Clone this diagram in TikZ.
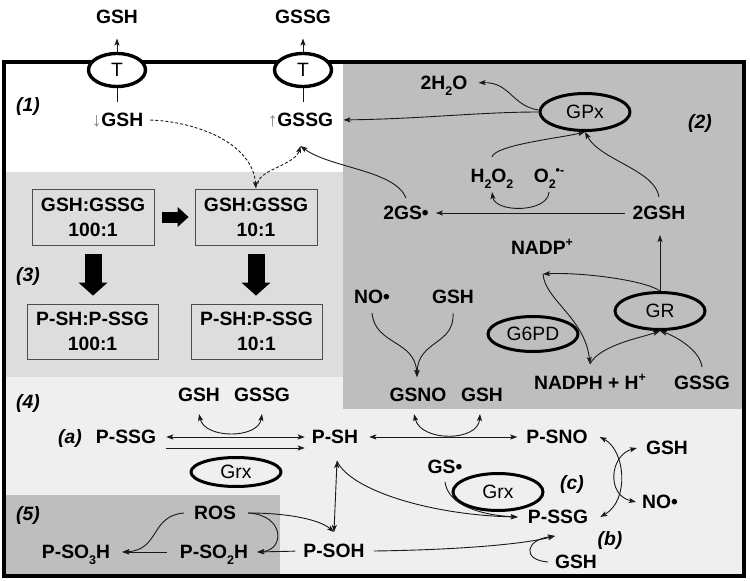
\documentclass[tikz,border=0pt]{standalone}
\usepackage{fontspec}
\setmainfont{Liberation Sans}
\usepackage{graphicx}
\usetikzlibrary{arrows.meta,shapes.geometric}
\definecolor{rtwo}{gray}{0.745}
\definecolor{rthree}{gray}{0.867}
\definecolor{rfour}{gray}{0.937}
\definecolor{ink}{gray}{0.1}
\newcommand{\sbs}[1]{\raisebox{-0.28em}{\fontsize{12.5}{12.5}\selectfont #1}}
\newcommand{\sps}[1]{\raisebox{0.42em}{\fontsize{12.5}{12.5}\selectfont #1}}
\begin{document}
\begin{tikzpicture}[x=1pt,y=-1pt,
  lbl/.style={font=\bfseries\fontsize{19.3}{21}\selectfont, inner sep=2pt, text height=13.6pt, text depth=0pt},
  ital/.style={lbl, font=\bfseries\itshape\fontsize{19.3}{21}\selectfont},
  enz/.style={ellipse, draw=black, line width=3pt, minimum width=90pt, minimum height=37pt, inner sep=0pt, font=\fontsize{19.3}{21}\selectfont},
  tr/.style={ellipse, draw=black, fill=white, line width=3.4pt, minimum width=57pt, minimum height=33pt, inner sep=0pt, font=\fontsize{19.3}{21}\selectfont},
  ratio/.style={draw=black!70, line width=0.8pt, fill=rthree, minimum width=122pt, minimum height=56pt, align=center, inner sep=0pt, font=\bfseries\fontsize{19.3}{25}\selectfont},
  arr/.style={color=ink, line width=0.9pt, -{Stealth[length=7pt,width=5pt,inset=1.5pt]}},
  darr/.style={color=ink, line width=0.9pt, {Stealth[length=7pt,width=5pt,inset=1.5pt]}-{Stealth[length=7pt,width=5pt,inset=1.5pt]}},
  plainln/.style={color=ink, line width=1pt},
  fatdown/.style={line width=17pt, -{Triangle[length=13pt,width=29pt,line width=0pt]}},
  fatright/.style={line width=11pt, -{Triangle[length=11pt,width=20pt,line width=0pt]}},
  dsh/.style={dash pattern=on 3pt off 2pt}
]
\useasboundingbox (0,0) rectangle (750,581);
% backgrounds
\fill[white] (0,0) rectangle (750,581);
\fill[rthree] (4,172) rectangle (343,377);
\fill[rfour] (4,377) rectangle (744,576);
\fill[rtwo] (343,62) rectangle (744,409);
\fill[rtwo] (4,495) rectangle (280,576);
\draw[line width=3.4pt] (4,62) rectangle (744,576);

% ---- region 1 ----
\node[tr] (T1) at (117,70) {T};
\node[tr] (T2) at (303,70) {T};
\node[lbl] (gshOut) at (117,16.5) {GSH};
\node[lbl] (gssgOut) at (303,16.5) {GSSG};
\node[lbl] (gshIn) at (117.5,120) {\textcolor{gray}{\mdseries ↓}GSH};
\node[lbl] (gssgIn) at (300.5,120) {\textcolor{gray}{\mdseries ↑}GSSG};
\node[ital] (l1) at (28,105) {(1)};
\draw[arr, shorten >=13pt] (T1.north) -- (gshOut.south);
\draw[arr, shorten >=13pt] (T2.north) -- (gssgOut.south);
\draw[plainln] (T1.south) -- ++(0,14);
\draw[plainln] (T2.south) -- ++(0,14);
\coordinate (gssgInB) at ([yshift=-17pt]gssgIn.south);

% ---- region 3 ----
\node[ratio] (bA) at (93,217) {GSH:GSSG\\100:1};
\node[ratio] (bB) at (256,217) {GSH:GSSG\\10:1};
\node[ratio, minimum width=131pt, minimum height=55pt] (bC) at (92.5,331.5) {P-SH:P-SSG\\100:1};
\node[ratio, minimum width=131pt, minimum height=55pt] (bD) at (256.5,331.5) {P-SH:P-SSG\\10:1};
\node[ital] (l3) at (28,275) {(3)};
\draw[fatright, shorten <=8pt, shorten >=6pt] (bA.east) -- (bB.west);
\draw[fatdown, shorten <=9pt, shorten >=8pt] (bA.south) -- (bA.south |- bC.north);
\draw[fatdown, shorten <=9pt, shorten >=8pt] (bB.south) -- (bB.south |- bD.north);

\draw[arr, dsh, shorten <=5pt] (gshIn.east) .. controls (190,121) and (252,140) .. (bB.north);
\draw[arr, dsh] ([xshift=2pt,yshift=5pt]bB.north) .. controls (258,170) and (295,165) .. (gssgInB);

% ---- region 2 ----
\node[enz] (gpx) at (585,112) {GPx};
\node[lbl] (h2o) at (444,83) {2H\sbs{2}O};
\node[ital] (l2) at (700,122) {(2)};
\node[lbl] (h2o2) at (492,176) {H\sbs{2}O\sbs{2}};
\node[lbl] (o2) at (549,176) {O\sbs{2}\sps{•-}};
\node[lbl] (gsr2) at (406,213) {2GS•};
\node[lbl] (gsh2) at (659,213) {2GSH};
\node[lbl] (nadp) at (542,248) {NADP\sps{+}};
\node[enz] (gr) at (660,311) {GR};
\node[enz, minimum height=35pt] (g6pd) at (533,334) {G6PD};
\node[lbl] (nadph) at (590,383) {NADPH + H\sps{+}};
\node[lbl] (gssg2) at (702,383) {GSSG};
\node[lbl] (no1) at (372,297) {NO•};
\node[lbl] (gsh3) at (453,297) {GSH};
\node[lbl] (gsno) at (418,395) {GSNO};
\node[lbl] (gsh4) at (482,395) {GSH};

\draw[arr, shorten >=8pt] (gpx.west) .. controls (480,112) and (420,119) .. (gssgIn.east);
\draw[arr, shorten >=9pt] ([yshift=2pt]gpx.west) .. controls (512,106) and (510,82) .. (h2o.east);
\draw[arr] ([yshift=10pt]h2o2.north) .. controls (495,145) and (560,138) .. (gpx.south);
\draw[arr] ([yshift=7pt]gsh2.north) .. controls (655,170) and (600,160) .. (gpx.south);
\draw[arr] ([yshift=-7pt]o2.south) .. controls (548,213) and (495,213) .. ([yshift=-7pt]h2o2.south);
\draw[arr, shorten <=6pt, shorten >=5pt] (gsh2.west) -- (gsr2.east);
\draw[arr] ([yshift=6pt]gsr2.north) .. controls (395,170) and (330,168) .. (gssgInB);
\draw[arr, shorten >=13pt] (gr.north) -- (gr.north |- gsh2.south);
\coordinate (nadpT) at ([xshift=1pt,yshift=-17pt]nadp.south);
\coordinate (nadphT) at ([yshift=10pt]nadph.north);
\draw[arr] (gr.north) .. controls (645,280) and (580,272) .. (nadpT);
\draw[arr] (nadpT) .. controls (545,300) and (585,318) .. (nadphT);
\draw[arr] (nadphT) .. controls (600,345) and (640,338) .. (gr.south);
\draw[arr] ([yshift=7pt]gssg2.north) .. controls (700,350) and (675,336) .. (gr.south);
\coordinate (gsnoT) at ([xshift=-1pt,yshift=9pt]gsno.north);
\draw[arr] ([yshift=-7pt]no1.south) .. controls (375,345) and (415,340) .. (gsnoT);
\draw[arr] ([yshift=-7pt]gsh3.south) .. controls (455,345) and (418,340) .. (gsnoT);

% ---- region 4 ----
\node[ital] (l4) at (28,402) {(4)};
\node[lbl] (gsh5) at (199,395) {GSH};
\node[lbl] (gssg5) at (262,395) {GSSG};
\node[ital] (la) at (70,437) {(a)};
\node[lbl] (pssg1) at (126,437) {P-SSG};
\node[lbl] (psh) at (335,437) {P-SH};
\node[enz, minimum height=29pt] (grx1) at (236,472) {Grx};
\node[lbl] (psno) at (557,437) {P-SNO};
\node[lbl] (gsh6) at (667,448) {GSH};
\node[lbl] (no2) at (660,502) {NO•};
\node[lbl] (gsr) at (445,467) {GS•};
\node[enz] (grx2) at (498,492) {Grx};
\node[ital] (lc) at (572,483) {(c)};
\node[lbl] (pssg2) at (558,517) {P-SSG};
\node[ital] (lb) at (610,539) {(b)};
\node[lbl] (gsh7) at (576,562) {GSH};

% ---- region 5 ----
\node[ital] (l5) at (28,514) {(5)};
\node[lbl] (ros) at (215,513) {ROS};
\node[lbl] (pso3h) at (76,552) {P-SO\sbs{3}H};
\node[lbl] (pso2h) at (214,552) {P-SO\sbs{2}H};
\node[lbl] (psoh) at (334,551) {P-SOH};

\draw[darr] ([yshift=-10pt]gsh5.south) .. controls (205,439) and (258,439) .. ([yshift=-10pt]gssg5.south);
\draw[darr, shorten <=8pt, shorten >=5pt] (pssg1.east) -- (psh.west);
\draw[arr, shorten <=8pt, shorten >=5pt] ([yshift=-11pt]pssg1.east) -- ([yshift=-11pt]psh.west);
\draw[darr, shorten <=9pt, shorten >=7pt] (psh.east) -- (psno.west);
\draw[darr] ([xshift=-4pt,yshift=-10pt]gsno.south) .. controls (421,442) and (478,442) .. ([xshift=-2pt,yshift=-10pt]gsh4.south);
\draw[darr] ([xshift=10pt]psno.east) .. controls (625,450) and (630,500) .. ([xshift=10pt]pssg2.east);
\draw[darr] ([xshift=-7pt]gsh6.west) .. controls (610,455) and (606,495) .. ([xshift=-4pt]no2.west);

\coordinate (pssgW) at ([xshift=-8pt]pssg2.west);
\coordinate (pshS) at ([xshift=2pt,yshift=-15pt]psh.south);
\coordinate (psohN) at ([yshift=10pt]psoh.north);
\coordinate (pssgB) at ([xshift=-3pt,yshift=-10pt]pssg2.south);
\coordinate (pso2hE) at ([xshift=7pt]pso2h.east);
\coordinate (pso3hE) at ([xshift=10pt]pso3h.east);

\draw[arr] ([yshift=-6pt]gsr.south) .. controls (448,505) and (480,515) .. (pssgW);
\draw[arr] (pshS) .. controls (350,490) and (430,515) .. (pssgW);
\draw[darr] (pshS) -- (psohN);
\draw[arr] ([xshift=10pt]ros.east) .. controls (290,513) and (320,520) .. (psohN);
\draw[arr] ([xshift=10pt]ros.east) .. controls (285,515) and (285,550) .. (pso2hE);
\draw[arr, shorten <=6pt] (psoh.west) -- (pso2hE);
\draw[arr] ([xshift=-8pt]ros.west) .. controls (150,516) and (160,550) .. (pso3hE);
\draw[arr, shorten <=11pt] (pso2h.west) -- (pso3hE);
\draw[arr] ([xshift=7pt]psoh.east) .. controls (450,550) and (520,545) .. (pssgB);
\draw[arr] ([xshift=-5pt]gsh7.west) .. controls (522,560) and (525,540) .. (pssgB);
\end{tikzpicture}
\end{document}
